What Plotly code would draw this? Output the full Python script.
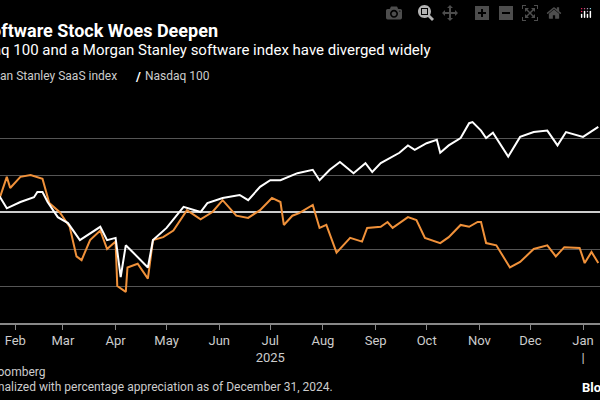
import plotly.graph_objects as go

# Morgan Stanley SaaS index, % change since Dec 31, 2024
saas_dates = ["2024-12-31", "2025-01-08", "2025-01-15", "2025-01-23", "2025-01-27", "2025-01-29",
              "2025-02-04", "2025-02-10", "2025-02-17", "2025-02-21", "2025-02-27", "2025-03-05",
              "2025-03-09", "2025-03-12", "2025-03-17", "2025-03-23", "2025-03-27", "2025-04-01",
              "2025-04-02", "2025-04-07", "2025-04-08", "2025-04-14", "2025-04-20", "2025-04-23",
              "2025-04-29", "2025-05-05", "2025-05-13", "2025-05-21", "2025-05-28", "2025-06-03",
              "2025-06-11", "2025-06-18", "2025-06-25", "2025-07-02", "2025-07-07", "2025-07-09",
              "2025-07-14", "2025-07-18", "2025-07-26", "2025-07-30", "2025-08-03", "2025-08-09",
              "2025-08-17", "2025-08-24", "2025-08-27", "2025-09-04", "2025-09-08", "2025-09-11",
              "2025-09-20", "2025-09-25", "2025-09-30", "2025-10-09", "2025-10-14", "2025-10-21",
              "2025-10-26", "2025-10-31", "2025-11-02", "2025-11-05", "2025-11-11", "2025-11-19",
              "2025-11-25", "2025-12-03", "2025-12-11", "2025-12-16", "2025-12-21", "2025-12-30",
              "2026-01-02", "2026-01-06", "2026-01-10"]
saas_values = [0, 2.5, 1.5, 4, 9.5, 6.5,
               9.5, 10, 9, 2.4, 0, -4,
               -12, -13, -7.6, -5, -10, -8,
               -20, -21.6, -15, -14, -18, -7.6,
               -6.8, -5, 0.5, -2, 0, 3.2,
               -1, -1.6, 0.5, 3.8, 2.7, -3.5,
               -1, -0.3, 1.9, -4.3, -3.5, -11,
               -7, -8, -4.3, -4, -2.7, -4.3,
               -1.4, -2.2, -7, -8.4, -6.8, -3.5,
               -4, -2.7, -2.7, -8.4, -9, -15,
               -13.5, -10, -9, -12, -9.5, -9.7,
               -13.8, -10.8, -13.8]

# Nasdaq 100, % change since Dec 31, 2024
ndx_dates = ["2024-12-31", "2025-01-08", "2025-01-15", "2025-01-23", "2025-01-27", "2025-02-04",
             "2025-02-12", "2025-02-14", "2025-02-17", "2025-02-20", "2025-02-26", "2025-03-04",
             "2025-03-11", "2025-03-17", "2025-03-23", "2025-03-27", "2025-04-01", "2025-04-04",
             "2025-04-07", "2025-04-11", "2025-04-20", "2025-04-23", "2025-05-01", "2025-05-11",
             "2025-05-21", "2025-05-25", "2025-06-03", "2025-06-13", "2025-06-18", "2025-06-25",
             "2025-07-01", "2025-07-07", "2025-07-17", "2025-07-26", "2025-07-30", "2025-08-05",
             "2025-08-11", "2025-08-19", "2025-08-26", "2025-08-30", "2025-09-04", "2025-09-15",
             "2025-09-20", "2025-09-24", "2025-10-01", "2025-10-07", "2025-10-09", "2025-10-14",
             "2025-10-21", "2025-10-26", "2025-10-28", "2025-11-02", "2025-11-05", "2025-11-09",
             "2025-11-13", "2025-11-18", "2025-11-25", "2025-12-03", "2025-12-11", "2025-12-17",
             "2025-12-22", "2026-01-01", "2026-01-10"]
ndx_values = [0, 1.5, 2, 4, 1, 2.7,
              4, 5.4, 5.4, 2.7, -1.4, -3,
              -7.6, -5.7, -4, -7.6, -7, -17.6,
              -9, -10.8, -15, -7.6, -4.3, 1.4,
              0, 2.4, 3.8, 4.6, 3.2, 6.8,
              8.6, 8.6, 10.5, 11.4, 8.6, 11.4,
              13.5, 10.5, 13.2, 10.8, 13.2, 16,
              18, 16.8, 18.6, 19.5, 16, 18,
              20, 24, 24.3, 22, 20, 21.4,
              18.6, 15, 20.3, 21.6, 22, 18,
              21.6, 20.3, 23]

tick_vals = ["2025-02-01", "2025-03-01", "2025-04-01", "2025-05-01", "2025-06-01", "2025-07-01",
             "2025-08-01", "2025-09-01", "2025-10-01", "2025-11-01", "2025-12-01", "2026-01-01"]
tick_text = ["Feb", "Mar", "Apr", "May", "Jun", "Jul<br>2025", "Aug", "Sep", "Oct", "Nov", "Dec", "Jan<br>|"]

FONT = "Liberation Sans Narrow, Roboto, sans-serif"

fig = go.Figure()
fig.add_trace(go.Scatter(x=saas_dates, y=saas_values, mode="lines",
                         line=dict(color="#f0913a", width=2), name="Morgan Stanley SaaS index"))
fig.add_trace(go.Scatter(x=ndx_dates, y=ndx_values, mode="lines",
                         line=dict(color="#ffffff", width=2), name="Nasdaq 100"))

fig.update_layout(
    width=600, height=400,
    paper_bgcolor="#000000", plot_bgcolor="#000000",
    margin=dict(l=0, r=0, t=101, b=77),
    showlegend=False,
    font=dict(family=FONT, color="#cccccc", size=13),
)
fig.update_xaxes(range=["2025-01-23", "2026-01-11"], tickvals=tick_vals, ticktext=tick_text,
                 ticks="outside", ticklen=5, tickcolor="#888888", showgrid=False,
                 showline=True, linecolor="#888888", linewidth=1.5,
                 tickfont=dict(size=13, color="#cccccc"))
fig.update_yaxes(range=[-30, 30], dtick=10, showgrid=True, gridcolor="#555555", gridwidth=1,
                 zeroline=True, zerolinecolor="#cccccc", zerolinewidth=1.5,
                 showticklabels=False)

# texts are cut at the left edge in the reference, so anchor them to the right
notes = [
    dict(text="<b>Software Stock Woes Deepen</b>", x=220, y=31, size=18, color="#ffffff", anchor="right"),
    dict(text="The Nasdaq 100 and a Morgan Stanley software index have diverged widely", x=433, y=50, size=15,
         color="#ffffff", anchor="right"),
    dict(text="Morgan Stanley SaaS index", x=119, y=76, size=12, color="#cccccc", anchor="right"),
    dict(text="<b>/</b>", x=133, y=76, size=13, color="#ffffff", anchor="left"),
    dict(text="Nasdaq 100", x=143, y=76, size=12, color="#cccccc", anchor="left"),
    dict(text="Source: Bloomberg", x=47, y=372, size=12, color="#cccccc", anchor="right"),
    dict(text="Note: Data is normalized with percentage appreciation as of December 31, 2024.", x=335, y=387,
         size=12, color="#cccccc", anchor="right"),
    dict(text="<b>Bloomberg</b>", x=580, y=387, size=13, color="#ffffff", anchor="left"),
]
for n in notes:
    fig.add_annotation(text=n["text"], xref="paper", yref="paper", showarrow=False,
                       x=n["x"] / 600, y=(400 - 77 - n["y"]) / 222,
                       xanchor=n["anchor"], yanchor="middle",
                       font=dict(size=n["size"], color=n["color"], family=FONT))

# drop the browser's default body margin so the figure sits at the window's corner
fig.write_html("out.html", post_script="document.body.style.margin='0';")
